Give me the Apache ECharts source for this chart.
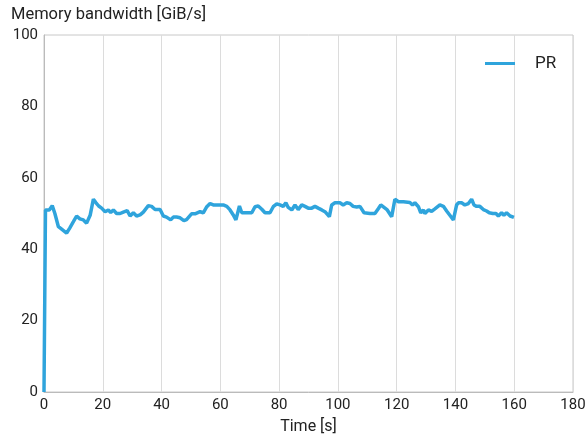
<!DOCTYPE html>
<html><head><meta charset="utf-8">
<script src="https://cdn.jsdelivr.net/npm/echarts@6/dist/echarts.min.js"></script>
<style>html,body{margin:0;padding:0;background:#fff}#c{width:588px;height:436px}</style>
</head><body><div id="c"></div>
<script>
const seriesName = 'PR';
const times = [0,0.5,1.8,2.8,3.7,4.9,6.0,6.6,7.7,8.8,
10.0,11.1,12.2,13.4,14.5,15.7,16.8,17.7,18.6,19.6,
20.8,21.9,22.7,23.6,24.7,25.9,27.0,28.3,29.3,30.4,
31.5,32.7,33.8,35.5,36.6,37.8,39.5,40.6,41.7,43.1,
44.0,45.1,46.3,47.6,48.5,50.2,51.4,53.1,54.2,55.4,
56.5,57.6,59.3,61.0,62.2,63.3,64.4,65.3,66.5,67.3,
69.0,70.7,71.8,72.9,74.1,75.2,76.9,78.0,79.2,80.3,
81.4,82.3,83.1,84.3,85.4,86.5,87.7,88.8,89.9,91.1,
92.2,93.3,94.5,95.6,97.1,97.9,99.0,100.7,101.8,103.0,
104.1,105.2,106.4,107.5,108.9,110.9,112.6,113.8,114.6,115.7,
116.8,118.3,119.4,120.6,122.3,124.5,125.4,126.2,127.4,128.2,
129.1,129.6,130.8,131.9,133.0,134.7,135.9,137.0,138.1,139.3,
140.4,141.0,142.1,143.2,144.4,145.5,146.3,147.2,148.3,149.5,
150.6,151.5,152.7,153.8,154.6,155.7,156.5,157.4,158.6,159.9];
const bandwidth = [0,51,51,52.2,50,46.3,45.6,46,44.5,46,
47.7,49.3,48.5,48.2,47.3,49.5,54,53,52.1,51.5,
50.5,51,50.3,51,50,50,50.4,50.8,49.3,50.2,
49.3,49.6,50.4,52.2,52,51.1,51.1,49.3,49,48.2,
49,49,48.8,48,48.3,49.9,49.9,50.5,50.2,51.9,
52.8,52.4,52.4,52.4,52,51,49.6,48.2,52.1,50.2,
50.2,50.2,51.9,52.1,51.2,50.2,50.2,51.9,52.7,52.4,
52,53,51.7,51,52.4,51.1,52.4,52,51.5,51.5,
52,51.5,51,50.5,49.1,52.4,53,53,52.4,53,
52.8,52,51.8,52,50.2,50,50,51.4,52.4,51.7,
51,49.1,54,53.3,53.3,53.1,52.4,53,51.9,50.2,
51,50,51,50.6,51.3,52.4,52,50.7,49.5,48.2,
52.4,53,53,52.4,52.8,54,52.4,52,52,51.1,
50.7,50.2,50,50,49.3,50.2,49.5,50.2,49.3,48.9];
const xTicks = {min: 0, max: 180, step: 20};
const yTicks = {min: 0, max: 100, step: 20};

const tickFont = "'Roboto','Noto Sans',sans-serif";
const textFont = "'Roboto','Noto Sans',sans-serif";
const chart = echarts.init(document.getElementById('c'), null, {renderer: 'canvas'});
chart.setOption({
  animation: false,
  backgroundColor: '#fff',
  title: {text: 'Memory bandwidth [GiB/s]', left: 6, top: 1,
    textStyle: {fontSize: 16.5, fontWeight: 'normal', color: '#222', fontFamily: textFont}},
  legend: {data: [seriesName], left: 480, top: 50, itemWidth: 30, itemHeight: 3,
    icon: 'rect',
    textStyle: {fontSize: 17, color: '#222', fontFamily: textFont, padding: [0,0,0,15]}},
  grid: {left: 44, right: 15, top: 35, bottom: 44, show: true, borderColor: '#c8c8c8', borderWidth: 1,
    containLabel: false, outerBoundsMode: 'none'},
  xAxis: {type: 'value', min: xTicks.min, max: xTicks.max, interval: xTicks.step,
    name: 'Time [s]', nameLocation: 'middle', nameGap: 27,
    nameTextStyle: {fontSize: 16, color: '#222', fontFamily: textFont},
    axisLine: {show: true, lineStyle: {color: '#bbb', width: 1}},
    axisTick: {show: false},
    axisLabel: {fontSize: 15, color: '#222', fontFamily: tickFont, margin: 6},
    splitLine: {show: true, lineStyle: {color: '#dcdcdc', width: 1}}},
  yAxis: {type: 'value', min: yTicks.min, max: yTicks.max, interval: yTicks.step,
    axisLine: {show: true, lineStyle: {color: '#bbb', width: 1}},
    axisTick: {show: false},
    axisLabel: {fontSize: 15, color: '#222', fontFamily: tickFont, margin: 6},
    splitLine: {show: false}},
  series: [{name: seriesName, type: 'line', symbol: 'none', showSymbol: false,
    data: times.map((t, i) => [t, bandwidth[i]]),
    lineStyle: {color: '#2fa4dc', width: 3.5}, itemStyle: {color: '#2fa4dc'}}]
});
</script></body></html>
